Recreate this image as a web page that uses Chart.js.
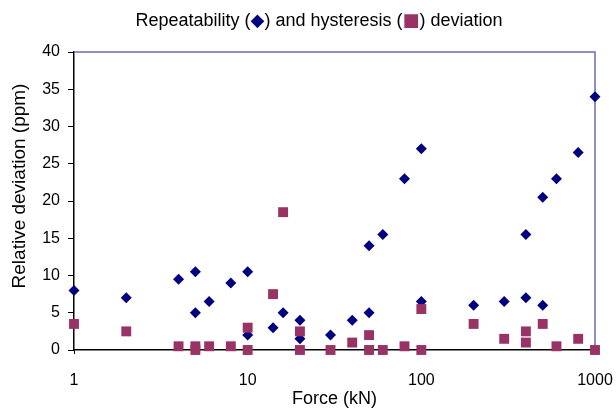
<!DOCTYPE html>
<html>
<head>
<meta charset="utf-8">
<script src="https://cdn.jsdelivr.net/npm/chart.js@4.4.1/dist/chart.umd.min.js"></script>
<style>
  body { margin: 0; background: #fff; }
  #wrap { width: 616px; height: 410px; }
</style>
</head>
<body>
<div id="wrap"><canvas id="grafico" width="616" height="410"></canvas></div>
<script>
// Repeatability (diamonds)
const forceRep = [1, 2, 4, 5, 5, 6, 8, 10, 10, 14, 16, 20, 20, 30, 40, 50, 50, 60, 80, 100, 100, 200, 300, 400, 400, 500, 500, 600, 800, 1000];
const repValues = [8, 7, 9.5, 10.5, 5, 6.5, 9, 10.5, 2, 3, 5, 4, 1.5, 2, 4, 14, 5, 15.5, 23, 27, 6.5, 6, 6.5, 15.5, 7, 20.5, 6, 23, 26.5, 34];

// Hysteresis (squares)
const forceHys = [1, 2, 4, 5, 5, 6, 8, 10, 10, 14, 16, 20, 20, 30, 40, 50, 50, 60, 80, 100, 100, 200, 300, 400, 400, 500, 600, 800, 1000];
const hysValues = [3.5, 2.5, 0.5, 0.5, 0, 0.5, 0.5, 3, 0, 7.5, 18.5, 2.5, 0, 0, 1, 2, 0, 0, 0.5, 5.5, 0, 3.5, 1.5, 2.5, 1, 3.5, 0.5, 1.5, 0];

const xTicks = [1, 10, 100, 1000];
const yMin = 0, yMax = 40, yStep = 5;

const corRep = '#000080';
const corHys = '#993366';
const corBorda = '#6a6ab4';
const fonte = "'Liberation Sans', Arial, sans-serif";

function pontos(xs, ys) {
  return xs.map((x, i) => ({ x: x, y: ys[i] }));
}

// top and right border of the plot area
const bordaPlot = {
  id: 'bordaPlot',
  beforeDatasetsDraw(chart) {
    const a = chart.chartArea;
    const ctx = chart.ctx;
    ctx.save();
    ctx.strokeStyle = corBorda;
    ctx.lineWidth = 1.5;
    ctx.beginPath();
    ctx.moveTo(a.left, a.top);
    ctx.lineTo(a.right, a.top);
    ctx.lineTo(a.right, a.bottom);
    ctx.stroke();
    ctx.restore();
  }
};

// title with coloured marker glyphs + y axis title (sits a bit above centre)
const textosPlot = {
  id: 'textosPlot',
  afterDraw(chart) {
    const ctx = chart.ctx;
    const partes = [
      ['Repeatability (', '#000', fonte],
      ['\u25C6', corRep, "'DejaVu Sans', sans-serif"],
      [') and hysteresis (', '#000', fonte],
      ['\u25A0', corHys, "'DejaVu Sans', sans-serif"],
      [') deviation', '#000', fonte]
    ];
    ctx.save();
    ctx.textBaseline = 'alphabetic';
    let total = 0;
    partes.forEach(p => {
      ctx.font = '18px ' + p[2];
      total += ctx.measureText(p[0]).width;
    });
    let x = 319 - total / 2;
    partes.forEach(p => {
      ctx.font = '18px ' + p[2];
      ctx.fillStyle = p[1];
      ctx.fillText(p[0], x, 26);
      x += ctx.measureText(p[0]).width;
    });

    ctx.translate(25, 186);
    ctx.rotate(-Math.PI / 2);
    ctx.font = '19px ' + fonte;
    ctx.fillStyle = '#000';
    ctx.textAlign = 'center';
    ctx.fillText('Relative deviation (ppm)', 0, 0);
    ctx.restore();
  }
};

const ctx = document.getElementById('grafico').getContext('2d');
const grafico = new Chart(ctx, {
  type: 'scatter',
  data: {
    datasets: [
      {
        label: 'Repeatability',
        data: pontos(forceRep, repValues),
        pointStyle: 'rectRot',
        pointRadius: 5.5,
        pointHoverRadius: 5.5,
        backgroundColor: corRep,
        borderColor: corRep,
        borderWidth: 0,
        clip: false,
        order: 1
      },
      {
        label: 'Hysteresis',
        data: pontos(forceHys, hysValues),
        pointStyle: 'rect',
        pointRadius: 7,
        pointHoverRadius: 7,
        backgroundColor: corHys,
        borderColor: corHys,
        borderWidth: 0,
        clip: false,
        order: 0
      }
    ]
  },
  options: {
    responsive: false,
    animation: false,
    layout: { padding: { top: 52, right: 21, left: 0, bottom: 0 } },
    plugins: {
      legend: { display: false },
      title: { display: false },
      tooltip: { enabled: false }
    },
    scales: {
      x: {
        type: 'logarithmic',
        min: 1,
        max: 1000,
        afterBuildTicks(scale) {
          scale.ticks = xTicks.map(v => ({ value: v }));
        },
        afterFit(scale) { scale.height = 60; },
        ticks: {
          color: '#000',
          font: { family: fonte, size: 16, lineHeight: 2.9 },
          padding: 3,
          maxRotation: 0,
          autoSkip: false,
          callback: v => String(v)
        },
        grid: { drawOnChartArea: false, tickLength: 4, color: '#000' },
        border: { display: true, color: '#000', width: 1.5 },
        title: {
          display: true,
          text: 'Force (kN)',
          color: '#000',
          font: { family: fonte, size: 18 },
          padding: { top: 0, bottom: 0 }
        }
      },
      y: {
        min: yMin,
        max: yMax,
        afterFit(scale) { scale.width = 74; },
        ticks: {
          stepSize: yStep,
          color: '#000',
          font: { family: fonte, size: 16 },
          padding: 8
        },
        grid: { drawOnChartArea: false, tickLength: 6, color: '#000' },
        border: { display: true, color: '#000', width: 1.5 },
        title: { display: false }
      }
    }
  },
  plugins: [bordaPlot, textosPlot]
});
</script>
</body>
</html>
